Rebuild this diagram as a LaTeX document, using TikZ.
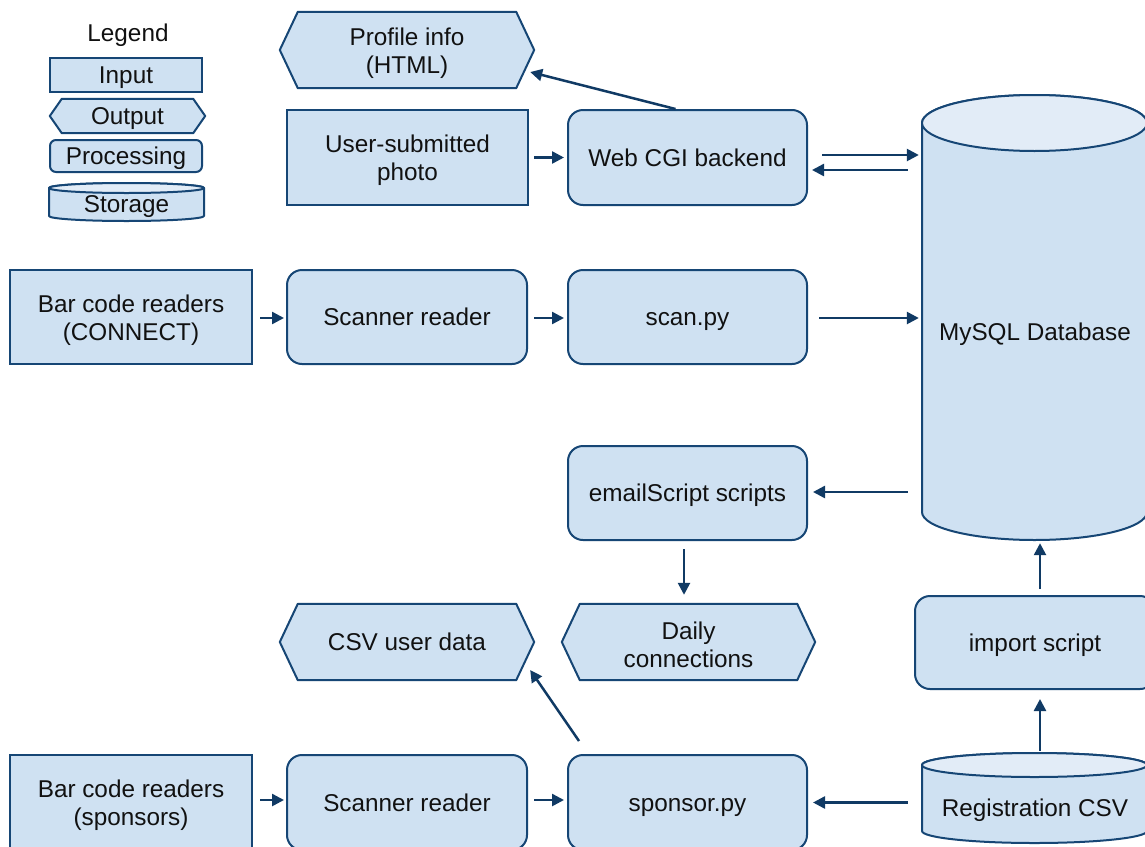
\documentclass[tikz,border=0pt]{standalone}
\usepackage{fontspec}
\setmainfont{Liberation Sans}
\usetikzlibrary{backgrounds,arrows.meta,calc}
\definecolor{bfill}{RGB}{207,225,242}
\definecolor{tfill}{RGB}{226,236,247}
\definecolor{bline}{RGB}{22,70,117}
\definecolor{aline}{RGB}{16,58,100}
\definecolor{txt}{RGB}{17,17,17}
\newcommand\tstrut{\rule{0pt}{23.5pt}}
\tikzset{
 every node/.style={font=\fontsize{24.3}{28}\selectfont, text=txt, align=center, inner sep=0pt},
 one/.style={text height=22pt, text depth=5pt},
 inbox/.style={draw=bline, fill=bfill, line width=2pt, rectangle},
 procbox/.style={inbox, rounded corners=15pt},
 ghost/.style={rectangle, draw=none},
 shapeline/.style={draw=bline, fill=bfill, line width=2pt, line join=round},
 arr/.style={draw=aline, line width=2.5pt, -{Triangle[length=12pt,width=12pt]}},
}
\newcommand\hexpath[2]{%
 \path[shapeline] ([xshift=#2]#1.north west) -- ([xshift=-#2]#1.north east) -- (#1.east)
   -- ([xshift=-#2]#1.south east) -- ([xshift=#2]#1.south west) -- (#1.west) -- cycle;}
\newcommand\cylpath[5]{%
 \path[shapeline] (#1-#2,#3) -- (#1-#2,#4) arc[start angle=180,end angle=360,x radius=#2,y radius=#5]
   -- (#1+#2,#3) arc[start angle=0,end angle=180,x radius=#2,y radius=#5] -- cycle;
 \path[shapeline,fill=tfill] (#1,#3) ellipse[x radius=#2,y radius=#5];}
\begin{document}
\begin{tikzpicture}[x=1pt,y=1pt]
\useasboundingbox (0,0) rectangle (1145,-846);
\clip (0,0) rectangle (1145,-846);
% legend
\node[one] (legend) at (128,-33) {Legend};
\node[inbox, one, minimum width=152pt, minimum height=34pt] (lin) at (126,-75) {Input};
\node[ghost, one, minimum width=155pt, minimum height=34pt] (lout) at (127.5,-116) {Output};
\node[procbox, one, rounded corners=6pt, minimum width=152pt, minimum height=32pt] (lproc) at (126,-156) {Processing};
\node[ghost, one, minimum width=155pt, minimum height=38pt] (lsto) at (126.5,-204) {Storage};
% top row
\node[ghost, minimum width=254pt, minimum height=76pt] (profile) at (407,-50) {\tstrut Profile info\\(HTML)};
\node[inbox, minimum width=241pt, minimum height=95pt] (photo) at (407.5,-157.5) {\tstrut User-submitted\\photo};
\node[procbox, one, minimum width=239pt, minimum height=95pt] (cgi) at (687.5,-157.5) {Web CGI backend};
% database
\node[ghost, minimum width=225pt, minimum height=445pt] (db) at (1034.5,-317.5) {};
\node[one] (dbtext) at (1035,-332) {MySQL Database};
% second row
\node[inbox, minimum width=242pt, minimum height=94pt] (barc) at (131,-317) {\tstrut Bar code readers\\(CONNECT)};
\node[procbox, one, minimum width=240pt, minimum height=94pt] (scan1) at (407,-317) {Scanner reader};
\node[procbox, one, minimum width=239pt, minimum height=94pt] (scanpy) at (687.5,-317) {scan.py};
% email
\node[procbox, one, minimum width=239pt, minimum height=94pt] (email) at (687.5,-493) {emailScript scripts};
\node[ghost, minimum width=253pt, minimum height=76pt] (daily) at (688.5,-642) {\tstrut Daily\\connections};
\node[ghost, one, minimum width=254pt, minimum height=76pt] (csv) at (407,-642) {CSV user data};
\node[procbox, one, minimum width=240pt, minimum height=93pt] (imp) at (1035,-642.5) {import script};
% bottom row
\node[ghost, minimum width=225pt, minimum height=90pt] (reg) at (1034.5,-798) {};
\node[one] (regtext) at (1035,-808) {Registration CSV};
\node[inbox, minimum width=242pt, minimum height=95pt] (bars) at (131,-802.5) {\tstrut Bar code readers\\(sponsors)};
\node[procbox, one, minimum width=240pt, minimum height=95pt] (scan2) at (407,-802.5) {Scanner reader};
\node[procbox, one, minimum width=239pt, minimum height=95pt] (sponsor) at (687.5,-802.5) {sponsor.py};
% background shapes
\begin{scope}[on background layer]
\fill[white] (0,0) rectangle (1145,-846);
\hexpath{lout}{12pt}
\hexpath{profile}{18pt}
\hexpath{daily}{18pt}
\hexpath{csv}{18pt}
\cylpath{126.5}{77.5}{-188}{-216}{5}
\cylpath{1034.5}{112.5}{-123}{-512}{28}
\cylpath{1034.5}{112.5}{-765}{-831}{12}
\end{scope}
% arrows
\draw[arr] ([xshift=-12pt]cgi.north) -- ($(profile.east)+(-4,-22)$);
\draw[arr] ($(photo.east)+(5,0)$) -- ($(cgi.west)+(-3,0)$);
\draw[arr] ($(cgi.east)+(14,2.5)$) -- ($(cgi.east -| db.west)+(-3,2.5)$);
\draw[arr] ($(cgi.east -| db.west)+(-14,-12.5)$) -- ($(cgi.east)+(4,-12.5)$);
\draw[arr] ($(barc.east)+(7,-1)$) -- ($(scan1.west)+(-2,-1)$);
\draw[arr] ($(scan1.east)+(6,-1)$) -- ($(scanpy.west)+(-3,-1)$);
\draw[arr] ($(scanpy.east)+(11,-1)$) -- ($(scanpy.east -| db.west)+(-3,-1)$);
\draw[arr] ($(email.east -| db.west)+(-14,1)$) -- ($(email.east)+(5,1)$);
\draw[arr] ($(email.south)+(-3.5,-8)$) -- ($(daily.north)+(-4.5,9)$);
\draw[arr] ($(imp.north)+(5,6)$) -- ($(imp.north |- db.south)+(5,-3)$);
\draw[arr] ($(reg.north)+(5.5,2)$) -- ($(imp.south)+(5,-9)$);
\draw[arr] ($(sponsor.east -| reg.west)+(-14,0)$) -- ($(sponsor.east)+(5,0)$);
\draw[arr] ($(bars.east)+(7,2.5)$) -- ($(scan2.west)+(-2,2.5)$);
\draw[arr] ($(scan2.east)+(6,2.5)$) -- ($(sponsor.west)+(-3,2.5)$);
\draw[arr] ($(sponsor.north west)+(12,13)$) -- ($(csv.east)+(-4,-28)$);
\end{tikzpicture}
\end{document}
